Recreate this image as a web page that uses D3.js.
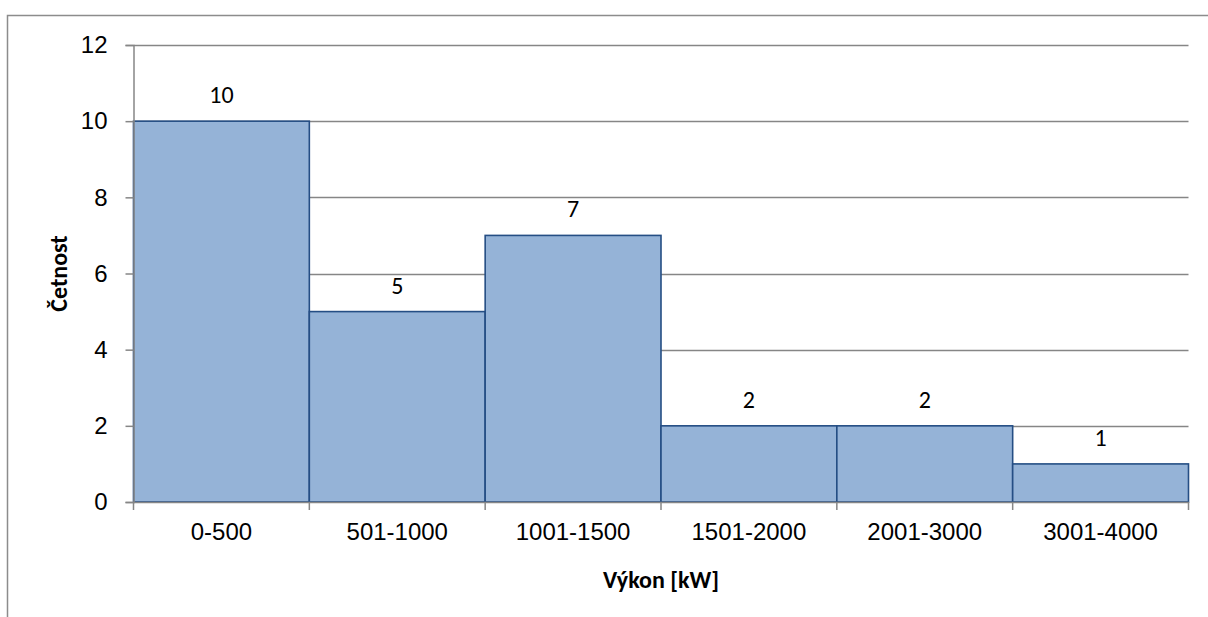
<!DOCTYPE html>
<html><head><meta charset="utf-8">
<script src="https://cdn.jsdelivr.net/npm/d3@7"></script>
<style>
body{margin:0;background:#fff;}
svg{display:block;font-family:Carlito,"Open Sans",Lato,sans-serif;}
</style></head>
<body>
<svg id="c" width="1208" height="617"></svg>
<script>
const categories = ["0-500","501-1000","1001-1500","1501-2000","2001-3000","3001-4000"];
const counts = [10,5,7,2,2,1];
const yTicks = [0,2,4,6,8,10,12];
const xTitle = "Výkon [kW]";
const yTitle = "Četnost";

const svg = d3.select("#c");
const L=133.5, R=1188.5, T=45, B=502;
const fs = 24;

// outer chart border (cropped)
svg.append("path").attr("d",`M7.5,640 V15.5 H1230`).attr("fill","none").attr("stroke","#8c8c8c").attr("stroke-width",1.5);

const x = d3.scaleBand().domain(categories).range([L,R]).padding(0);
const y = d3.scaleLinear().domain([0,12]).range([B,T]);

// gridlines
svg.append("g").selectAll("line").data(yTicks.filter(d=>d>0)).join("line")
  .attr("x1",L).attr("x2",R).attr("y1",d=>Math.round(y(d))+0.5).attr("y2",d=>Math.round(y(d))+0.5)
  .attr("stroke","#868686").attr("stroke-width",1.3);

// bars
svg.append("g").selectAll("rect").data(counts).join("rect")
  .attr("x",(d,i)=>x(categories[i])).attr("width",x.bandwidth())
  .attr("y",d=>y(d)).attr("height",d=>B-y(d))
  .attr("fill","#95b3d7").attr("stroke","#254e84").attr("stroke-width",1.6);

// y axis
const ya = svg.append("g").attr("transform",`translate(${L},0)`)
  .call(d3.axisLeft(y).tickValues(yTicks).tickSize(8).tickPadding(18));
ya.select(".domain").attr("stroke","#868686").attr("stroke-width",1.5);
ya.selectAll(".tick line").attr("stroke","#868686").attr("stroke-width",1.5);
ya.selectAll("text").attr("font-size",fs).attr("fill","#000").attr("font-family",null);

// x axis
const xa = svg.append("g").attr("transform",`translate(0,${B})`)
  .call(d3.axisBottom(x).tickSize(0).tickPadding(21));
xa.select(".domain").attr("stroke","#868686").attr("stroke-width",1.5);
xa.selectAll(".tick line").remove();
xa.selectAll("text").attr("font-size",fs).attr("fill","#000").attr("font-family",null);
// boundary tick marks
const bounds = categories.map(c=>x(c)).concat([R]);
svg.append("g").selectAll("line").data(bounds).join("line")
  .attr("x1",d=>d).attr("x2",d=>d).attr("y1",B).attr("y2",B+8)
  .attr("stroke","#868686").attr("stroke-width",1.5);

// data labels
svg.append("g").selectAll("text").data(counts).join("text")
  .attr("x",(d,i)=>x(categories[i])+x.bandwidth()/2).attr("y",d=>y(d)-18)
  .attr("text-anchor","middle").attr("font-size",fs).attr("fill","#000").text(d=>d);

// titles
svg.append("text").attr("x",(L+R)/2).attr("y",588).attr("text-anchor","middle")
  .attr("font-size",fs).attr("font-weight","bold").text(xTitle);
svg.append("text").attr("transform",`translate(67,${(T+B)/2}) rotate(-90)`).attr("text-anchor","middle")
  .attr("font-size",fs).attr("font-weight","bold").text(yTitle);
</script>
</body></html>
